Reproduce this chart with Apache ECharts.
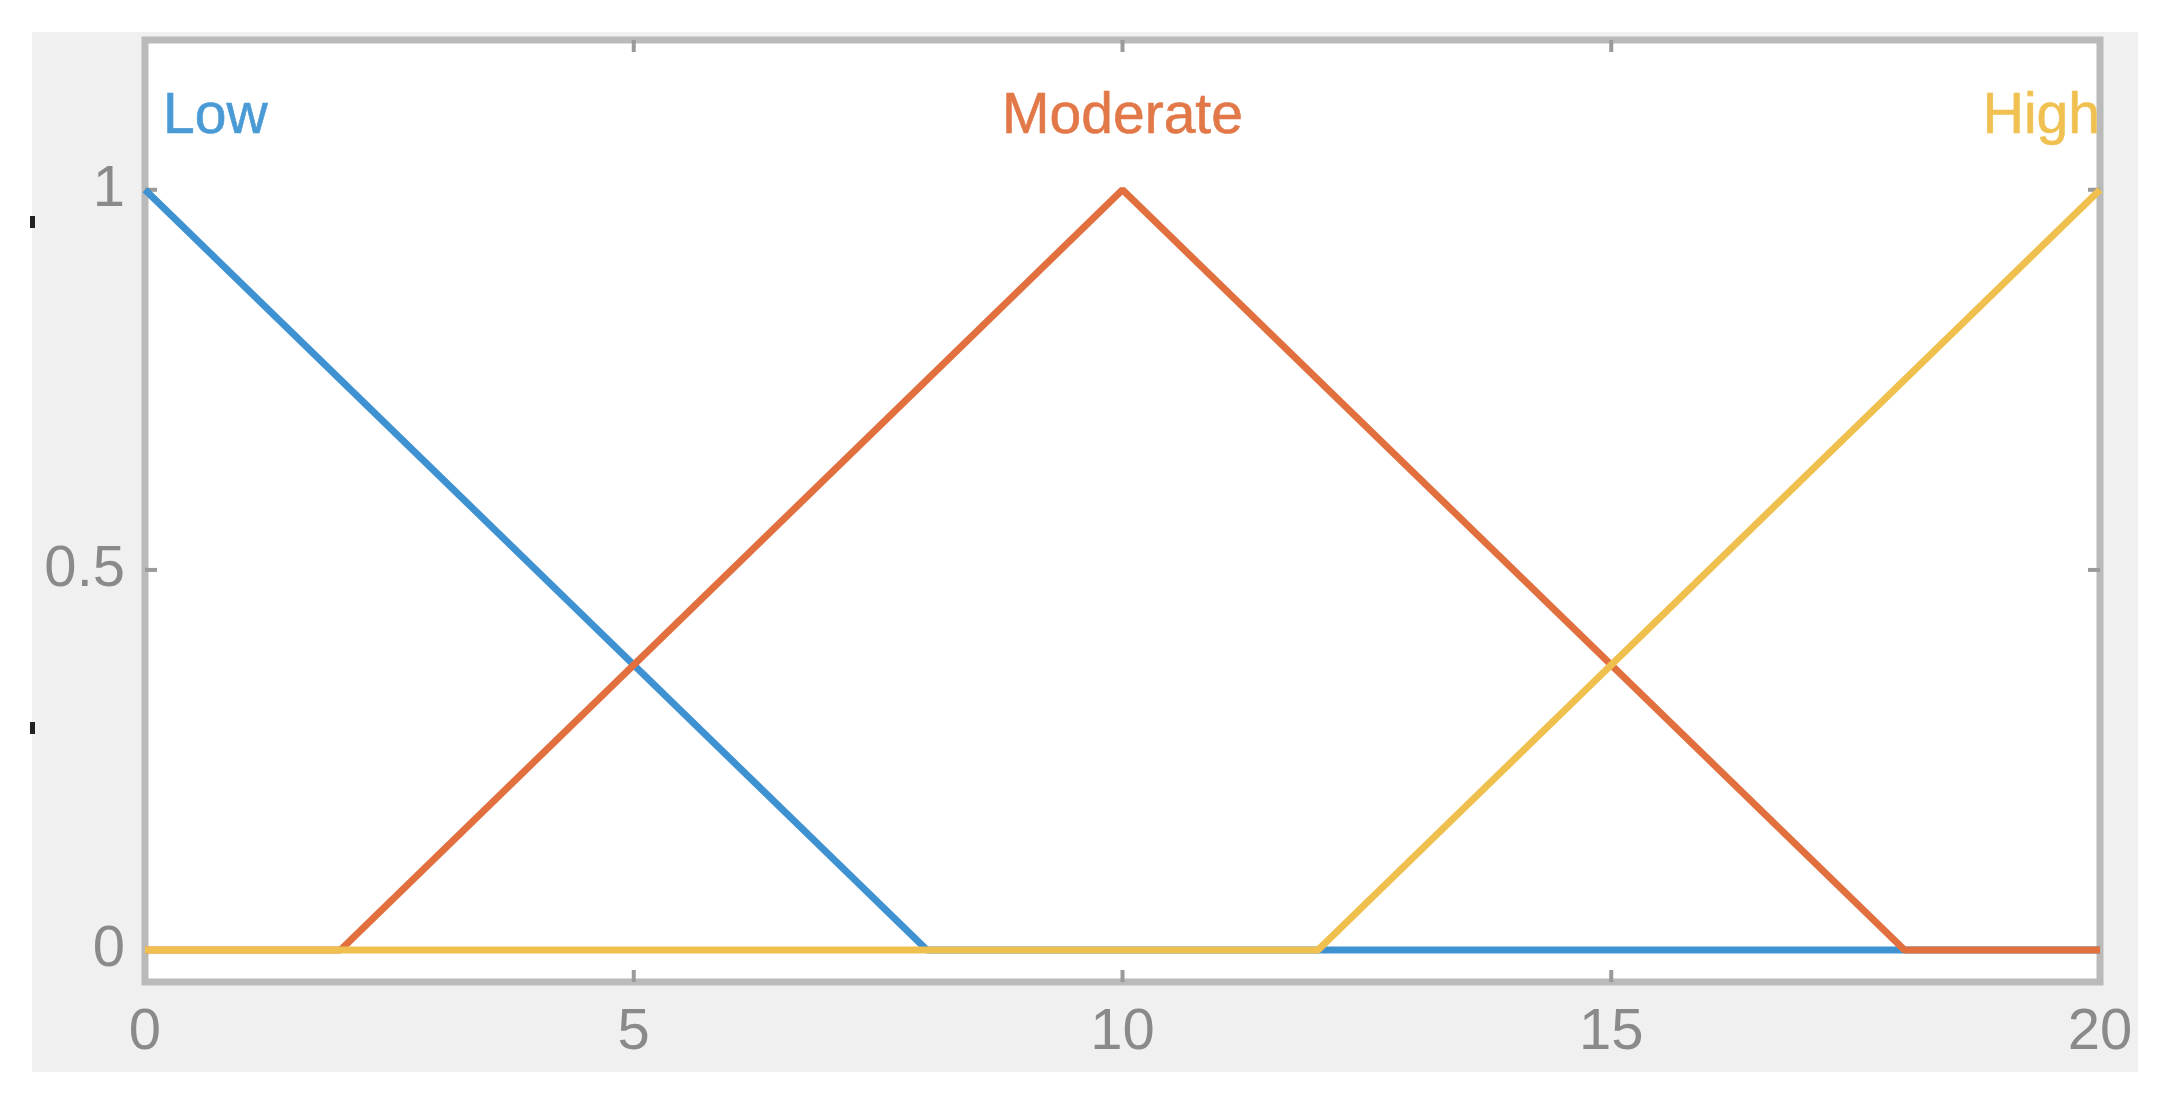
<!DOCTYPE html>
<html>
<head>
<meta charset="utf-8">
<style>
html,body{margin:0;padding:0;background:#ffffff;}
#chart{width:2166px;height:1102px;}
</style>
<script src="https://cdn.jsdelivr.net/npm/echarts@6/dist/echarts.min.js"></script>
</head>
<body>
<div id="chart"></div>
<script>
// Membership functions (x, membership)
const lowData = [[0, 1], [8, 0], [20, 0]];
const moderateData = [[0, 0], [2, 0], [10, 1], [18, 0], [20, 0]];
const highData = [[0, 0], [12, 0], [20, 1]];
const xTicks = [0, 5, 10, 15, 20];
const yTicks = [0, 0.5, 1];
const setNames = ['Low', 'Moderate', 'High'];
const labelX = [0, 10, 20];
const labelY = 1.095;

const colors = ['#3f92d2', '#e2703f', '#f0c04e'];
const textColors = ['#4a9ad6', '#e27848', '#f0c050'];
const aligns = ['left', 'center', 'right'];
const offsets = [[18, 0], [0, 0], [0, 0]];
const FONT = 'Liberation Sans, Arial, sans-serif';

const chart = echarts.init(document.getElementById('chart'));
const datasets = [lowData, moderateData, highData];

const series = datasets.map((d, i) => ({
  type: 'line',
  name: setNames[i],
  data: d,
  showSymbol: false,
  z: 2 + i,
  lineStyle: { color: colors[i], width: 7 },
  markPoint: {
    symbol: 'circle',
    symbolSize: 0,
    silent: true,
    data: [{ coord: [labelX[i], labelY], value: setNames[i] }],
    label: {
      show: true,
      position: 'inside',
      formatter: setNames[i],
      color: textColors[i],
      textBorderColor: textColors[i],
      textBorderWidth: 0.6,
      fontFamily: FONT,
      fontSize: 57,
      align: aligns[i],
      verticalAlign: 'middle',
      offset: offsets[i]
    }
  }
}));

const Y_MIN = -0.042, Y_MAX = 1.197;

chart.setOption({
  animation: false,
  backgroundColor: '#ffffff',
  grid: {
    left: 145, right: 66, top: 40, bottom: 120,
    show: true, borderColor: '#bababa', borderWidth: 7, backgroundColor: 'transparent'
  },
  xAxis: {
    type: 'value', min: 0, max: 20, interval: 5,
    axisLine: { show: false },
    splitLine: { show: false },
    axisTick: { show: false },
    axisLabel: {
      customValues: xTicks,
      color: '#8a8a8a', fontSize: 58, margin: 22, fontFamily: FONT
    }
  },
  yAxis: {
    type: 'value', min: Y_MIN, max: Y_MAX,
    axisLine: { show: false },
    splitLine: { show: false },
    axisTick: { show: false },
    axisLabel: {
      customValues: yTicks,
      formatter: v => String(v),
      color: '#8a8a8a', fontSize: 58, margin: 20, fontFamily: FONT
    }
  },
  series: series
});

// Inward tick marks on all four sides, positioned through the axes' own scales
const TL = 12;
const tickStyle = { stroke: '#9a9a9a', lineWidth: 4 };
const gfx = [
  { type: 'rect', z: -10, shape: { x: 32, y: 32, width: 2106, height: 1040 }, style: { fill: '#f0f0f0' } },
  { type: 'rect', z: -9, shape: { x: 145, y: 40, width: 1955, height: 942 }, style: { fill: '#ffffff' } },
  { type: 'rect', z: 10, shape: { x: 30, y: 216, width: 5, height: 12 }, style: { fill: '#222222' } },
  { type: 'rect', z: 10, shape: { x: 30, y: 722, width: 5, height: 12 }, style: { fill: '#222222' } }
];
const topPx = chart.convertToPixel({ gridIndex: 0 }, [0, Y_MAX])[1];
const botPx = chart.convertToPixel({ gridIndex: 0 }, [0, Y_MIN])[1];
const leftPx = chart.convertToPixel({ gridIndex: 0 }, [0, 0])[0];
const rightPx = chart.convertToPixel({ gridIndex: 0 }, [20, 0])[0];
[5, 10, 15].forEach(v => {
  const x = chart.convertToPixel({ gridIndex: 0 }, [v, 0])[0];
  gfx.push({ type: 'line', z: 1, shape: { x1: x, y1: botPx, x2: x, y2: botPx - TL }, style: tickStyle });
  gfx.push({ type: 'line', z: 1, shape: { x1: x, y1: topPx, x2: x, y2: topPx + TL }, style: tickStyle });
});
yTicks.forEach(v => {
  const y = chart.convertToPixel({ gridIndex: 0 }, [0, v])[1];
  gfx.push({ type: 'line', z: 1, shape: { x1: leftPx, y1: y, x2: leftPx + TL, y2: y }, style: tickStyle });
  gfx.push({ type: 'line', z: 1, shape: { x1: rightPx, y1: y, x2: rightPx - TL, y2: y }, style: tickStyle });
});
chart.setOption({ graphic: gfx });
</script>
</body>
</html>
